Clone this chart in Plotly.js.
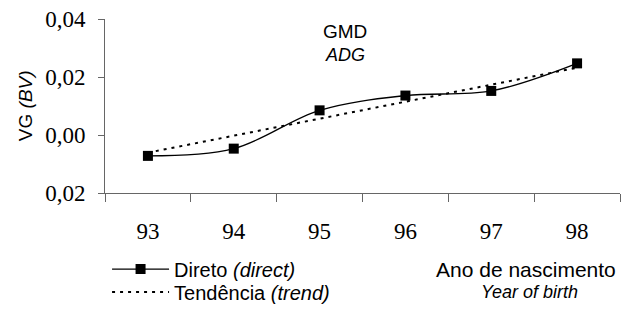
<!DOCTYPE html>
<html>
<head>
<meta charset="utf-8">
<script src="https://cdn.plot.ly/plotly-3.0.1.min.js"></script>
<style>html,body{margin:0;padding:0;background:#fff;}#chart{width:639px;height:312px;}</style>
</head>
<body>
<div id="chart"></div>
<script>
const years = ["93", "94", "95", "96", "97", "98"];
const direto = [-0.0072, -0.0047, 0.0085, 0.0136, 0.0152, 0.0247];
const tendencia = [-0.0061, -0.0002, 0.0056, 0.0115, 0.0173, 0.0232];
const yTickVals = [-0.02, 0, 0.02, 0.04];
const yTickText = ["0,02", "0,00", "0,02", "0,04"];

const sans = "Liberation Sans, Arial, sans-serif";
const serif = "Liberation Serif, Times New Roman, serif";

const traces = [
  {
    x: years, y: direto, type: "scatter", mode: "lines+markers",
    name: "Direto <i>(direct)</i>", legend: "legend",
    line: {color: "#000", width: 1.3, shape: "spline", smoothing: 1},
    marker: {symbol: "square", size: 10, color: "#000"}
  },
  {
    x: years, y: tendencia, type: "scatter", mode: "lines",
    name: "Tendência <i>(trend)</i>", legend: "legend2",
    line: {color: "#000", width: 2, dash: "3px,5px"}
  }
];

const legendStyle = (y) => ({
  x: 0.004, xanchor: "left", y: y, yanchor: "middle",
  font: {family: sans, size: 20, color: "#000"},
  itemwidth: 57, bgcolor: "rgba(0,0,0,0)", borderwidth: 0
});

const ann = (text, x, y, size, extra) => Object.assign({
  text: text, xref: "paper", yref: "paper", x: x, y: y,
  xanchor: "center", yanchor: "middle", showarrow: false,
  font: {family: sans, size: size, color: "#000"}
}, extra || {});

const layout = {
  width: 639, height: 312,
  margin: {l: 105, r: 19, t: 19, b: 119, autoexpand: false},
  paper_bgcolor: "#fff", plot_bgcolor: "#fff",
  showlegend: true,
  legend: legendStyle(-0.437),
  legend2: legendStyle(-0.569),
  xaxis: {
    type: "category", range: [-0.5, 5.5],
    tickson: "boundaries", ticks: "outside", ticklen: 8, tickcolor: "#666",
    showline: true, linecolor: "#666", linewidth: 1,
    showgrid: false, zeroline: false,
    ticklabelstandoff: 17,
    tickfont: {family: serif, size: 23, color: "#000"}
  },
  yaxis: {
    range: [-0.02, 0.04], tickvals: yTickVals, ticktext: yTickText,
    ticks: "outside", ticklen: 6, tickcolor: "#666",
    showline: true, linecolor: "#666", linewidth: 1,
    showgrid: false, zeroline: false,
    ticklabelstandoff: 8,
    tickfont: {family: serif, size: 23, color: "#000"}
  },
  annotations: [
    ann("GMD", 0.466, 0.931, 19),
    ann("<i>ADG</i>", 0.466, 0.793, 18),
    ann("VG <i>(BV)</i>", -0.155, 0.5, 19, {textangle: -90}),
    ann("Ano de nascimento", 0.996, -0.437, 21, {xanchor: "right"}),
    ann("<i>Year of birth</i>", 0.825, -0.569, 18)
  ]
};

Plotly.newPlot("chart", traces, layout, {displayModeBar: false, staticPlot: true});
</script>
</body>
</html>
